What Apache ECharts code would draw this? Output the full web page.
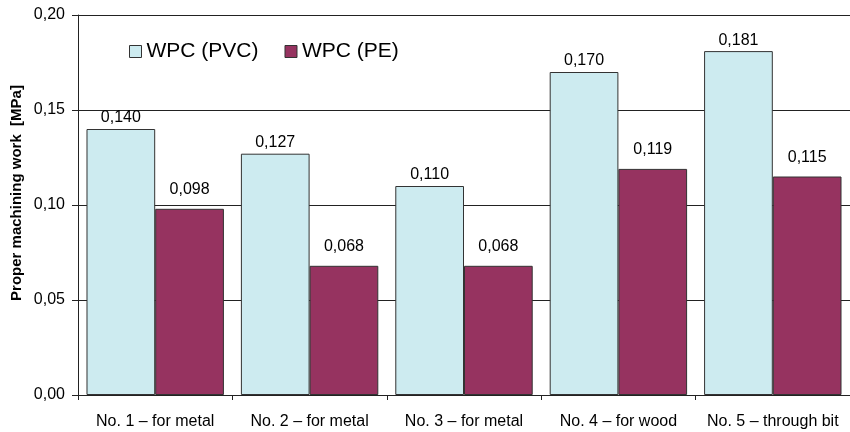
<!DOCTYPE html>
<html>
<head>
    <meta charset="utf-8" />
    <script src="https://cdn.jsdelivr.net/npm/echarts@6/dist/echarts.min.js"></script>
    <style type="text/css">
        html, body { width: 100%; height: 100%; margin: 0; background: #fff; }
        #main { width: 850px; height: 432px; }
    </style>
</head>
<body>
    <div id="main"></div>
    <script>
        var categories = ['No. 1 – for metal', 'No. 2 – for metal', 'No. 3 – for metal', 'No. 4 – for wood', 'No. 5 – through bit'];
        var pvcValues = [0.140, 0.127, 0.110, 0.170, 0.181];
        var peValues = [0.098, 0.068, 0.068, 0.119, 0.115];
        var yTitle = 'Proper machining work  [MPa]';

        function comma(v, digits) {
            return v.toFixed(digits).replace('.', ',');
        }

        var myChart = echarts.init(document.getElementById('main'));
        var font = 'Liberation Sans, Arial, sans-serif';
        // plot is cut off on the right in the original, so the grid runs past the canvas
        var option = {
            animation: false,
            textStyle: { fontFamily: font },
            grid: { left: 78, width: 780, top: 15, bottom: 37 },
            graphic: [{
                type: 'text',
                x: 17, y: 193,
                rotation: Math.PI / 2,
                style: {
                    text: yTitle,
                    align: 'center', verticalAlign: 'middle',
                    fontFamily: font, fontWeight: 'bold', fontSize: 15, fill: '#000'
                }
            }],
            legend: {
                left: 124, top: 36,
                itemWidth: 12, itemHeight: 12, itemGap: 26,
                textStyle: { fontSize: 21, color: '#000', fontFamily: font },
                data: [
                    { name: 'WPC (PVC)', icon: 'rect', itemStyle: { borderColor: '#333', borderWidth: 1 } },
                    { name: 'WPC (PE)', icon: 'rect', itemStyle: { borderColor: '#333', borderWidth: 1 } }
                ]
            },
            xAxis: {
                type: 'category',
                data: categories,
                axisLine: { lineStyle: { color: '#222' } },
                axisTick: { show: true, length: 5, lineStyle: { color: '#222' } },
                axisLabel: { interval: 0, color: '#000', fontSize: 16, margin: 19, fontFamily: font }
            },
            yAxis: {
                type: 'value',
                min: 0, max: 0.2, interval: 0.05,
                axisLine: { show: true, lineStyle: { color: '#222' } },
                axisTick: { show: true, length: 6, lineStyle: { color: '#222' } },
                axisLabel: { color: '#000', fontSize: 16, margin: 13, formatter: function (v) { return comma(v, 2); } },
                splitLine: { lineStyle: { color: '#222', width: 1 } }
            },
            series: [{
                name: 'WPC (PVC)',
                type: 'bar',
                data: pvcValues,
                barGap: '0%',
                barCategoryGap: '11%',
                itemStyle: { color: '#CDEBF0', borderColor: '#333', borderWidth: 1 },
                label: { show: true, position: 'top', distance: 3, color: '#000', fontSize: 16, formatter: function (p) { return comma(p.value, 3); } }
            }, {
                name: 'WPC (PE)',
                type: 'bar',
                data: peValues,
                itemStyle: { color: '#963360', borderColor: '#333', borderWidth: 1 },
                label: { show: true, position: 'top', distance: 11, color: '#000', fontSize: 16, formatter: function (p) { return comma(p.value, 3); } }
            }]
        };
        myChart.setOption(option);
    </script>
</body>
</html>
